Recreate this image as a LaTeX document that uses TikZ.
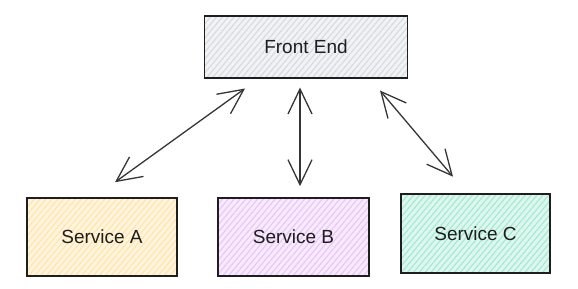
\documentclass[tikz,border=0pt]{standalone}
\usepackage{fontspec}
\setmainfont{Liberation Sans}
\usetikzlibrary{arrows.meta,patterns.meta}

\definecolor{ink}{HTML}{1E1E1E}
\definecolor{hgray}{HTML}{D5D9DE}
\definecolor{hyellow}{HTML}{FFE3A3}
\definecolor{hpurple}{HTML}{E9C2F6}
\definecolor{hteal}{HTML}{9EE8D2}

\begin{document}
\begin{tikzpicture}[
    x=1pt, y=1pt,
    box/.style={rectangle, draw=ink, line width=1.6pt, text=ink, font=\fontsize{19}{22}\selectfont,
      minimum width=150pt, minimum height=78pt},
    hatch/.style={preaction={fill=#1!35}, pattern={Lines[angle=50, distance=4.5pt, line width=1pt]}, pattern color=#1},
    arrow/.style={{Straight Barb[length=25pt, width=24pt, line width=1.3pt]}-{Straight Barb[length=25pt, width=24pt, line width=1.3pt]}, line width=1.3pt, draw=ink!90}
  ]

    \useasboundingbox (0,0) rectangle (578,289);

    % Top layer - client
    \node[box, hatch=hgray, minimum width=203pt, minimum height=62pt] (front) at (306,242) {Front End};

    % Bottom layer - services
    \node[box, hatch=hyellow] (svcA) at (102,52) {Service A};
    \node[box, hatch=hpurple, minimum width=151pt] (svcB) at (293.5,52) {Service B};
    \node[box, hatch=hteal, minimum width=149pt, minimum height=79pt] (svcC) at (475.5,55.5) {Service C};

    % Arrows - two way links
    \draw[arrow] ([shift={(13,15)}]svcA.north) -- ([shift={(-61,-10)}]front.south);
    \draw[arrow] ([shift={(-6,-9)}]front.south) -- ([shift={(6.5,11)}]svcB.north);
    \draw[arrow] ([shift={(74,-12)}]front.south) -- ([shift={(-22.5,16.5)}]svcC.north);

  \end{tikzpicture}
\end{document}
